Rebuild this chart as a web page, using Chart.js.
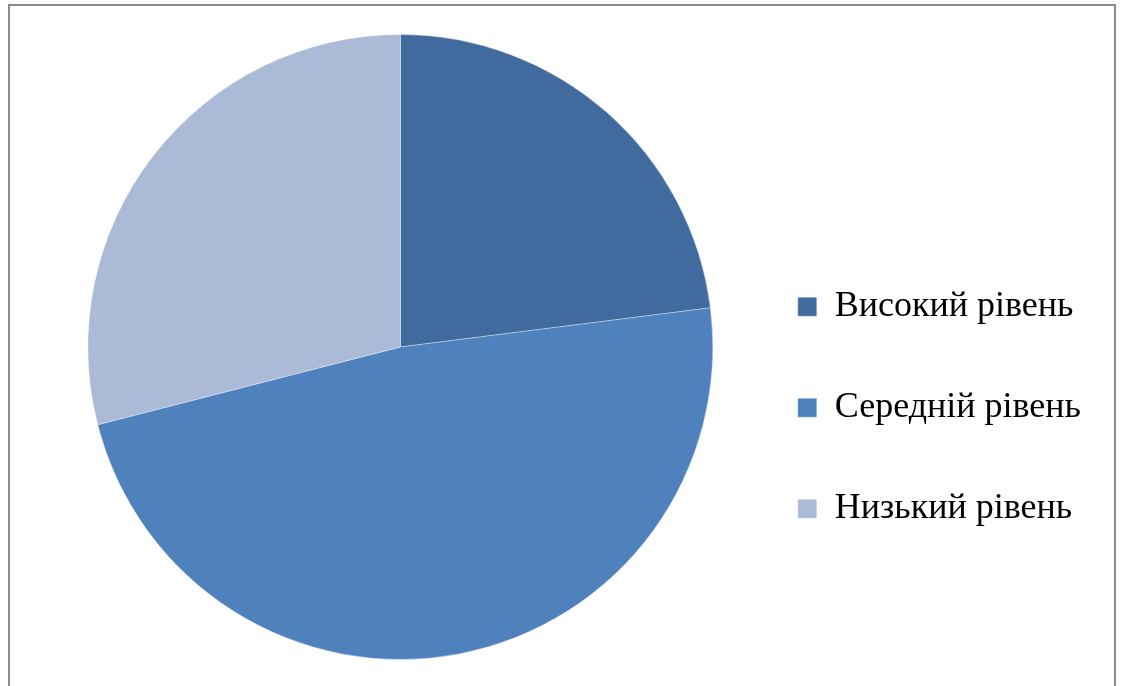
<!DOCTYPE html>
<html>
<head>
<meta charset="utf-8">
<script src="https://cdn.jsdelivr.net/npm/chart.js@4/dist/chart.umd.min.js"></script>
<style>
  body { margin: 0; background: #fff; }
  #frame {
    position: absolute; left: 8px; top: 4px;
    width: 1104px; height: 800px;
    border: 2px solid #8a8a8a;
  }
  #wrap { position: absolute; left: 0; top: 0; width: 1122px; height: 686px; }
</style>
</head>
<body>
<div id="frame"></div>
<div id="wrap"><canvas id="myChart" width="1122" height="686"></canvas></div>
<script>
var levels = ['Високий рівень', 'Середній рівень', 'Низький рівень'];
var shares = [23, 48, 29];
var sliceColors = ['#416a9e', '#4f81bd', '#aabad7'];

var ctx = document.getElementById('myChart').getContext('2d');
var myChart = new Chart(ctx, {
  type: 'pie',
  data: {
    labels: levels,
    datasets: [{
      data: shares,
      backgroundColor: sliceColors,
      borderColor: 'rgba(255,255,255,0.35)',
      borderWidth: 1,
      hoverOffset: 0
    }]
  },
  options: {
    responsive: false,
    animation: false,
    layout: { padding: { left: 68, right: 31, top: 34, bottom: 26 } },
    plugins: {
      tooltip: { enabled: false },
      legend: {
        position: 'right',
        align: 'center',
        // empty title just pushes the items down a bit
        title: { display: true, text: '', padding: { top: 107, bottom: 0 }, font: { size: 12 } },
        labels: {
          boxWidth: 19,
          boxHeight: 19,
          padding: 65,
          color: '#000',
          font: { family: '"Liberation Serif", "Times New Roman", serif', size: 36 }
        }
      }
    }
  }
});
</script>
</body>
</html>
